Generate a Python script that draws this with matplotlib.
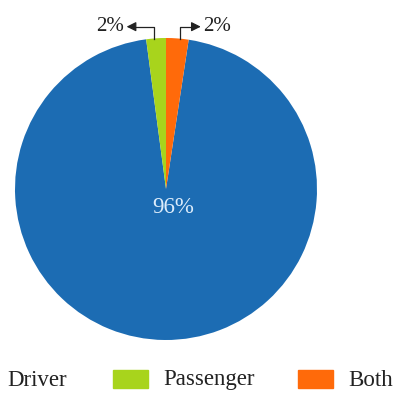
import numpy as np
import matplotlib.pyplot as plt
from matplotlib.patches import Rectangle

labels = ['Driver', 'Passenger', 'Both']
shares = [95.5, 2.1, 2.4]
colors = ['#1c6cb3', '#a8d41c', '#ff6a0a']

plt.rcParams['font.family'] = ['Liberation Serif', 'DejaVu Serif']

W, H = 395, 399
fig = plt.figure(figsize=(W / 100, H / 100), dpi=100)

# pie area in pixels: centre (166, 189), radius 151
cx, cy, r = 166, 189, 151
ax = fig.add_axes([(cx - r) / W, (H - cy - r) / H, 2 * r / W, 2 * r / H])

# clockwise, with Passenger just left of the top and Both just right of it
start = 90 - 360 * shares[2] / sum(shares)
wedges, _ = ax.pie(shares, colors=colors, startangle=start, counterclock=False,
                   radius=1, wedgeprops=dict(linewidth=0))
ax.set_xlim(-1, 1)
ax.set_ylim(-1, 1)
ax.set_aspect('equal')
ax.axis('off')

# centre label for the big slice
ax.text(0.05, -0.125, f'{round(shares[0])}%', color='#dcecfb', fontsize=16.5,
        ha='center', va='center')

# small slices: bracket lines with arrow heads pointing at the labels
ytop = 1.075
for w, val, side, reach in [(wedges[1], shares[1], -1, 0.18),
                            (wedges[2], shares[2], 1, 0.14)]:
    mid = np.deg2rad((w.theta1 + w.theta2) / 2)
    x0 = np.cos(mid) + side * 0.015
    y0 = 0.995
    xh = x0 + side * reach
    ax.plot([x0, x0, xh - side * 0.04], [y0, ytop, ytop], color='#222222',
            lw=0.9, clip_on=False)
    ax.annotate('', xy=(xh, ytop), xytext=(xh - side * 0.05, ytop),
                arrowprops=dict(arrowstyle='-|>', color='#222222', lw=0.9,
                                mutation_scale=14, shrinkA=0, shrinkB=0),
                annotation_clip=False)
    ax.text(xh + side * 0.015, ytop, f'{round(val)}%', fontsize=15,
            color='#222222', ha='left' if side > 0 else 'right',
            va='center', clip_on=False)

# legend along the bottom
patch_x = [-43, 113, 298]
for px, lab, col in zip(patch_x, labels, colors):
    fig.patches.append(Rectangle((px / W, (H - 388) / H), 35 / W, 18 / H,
                                 transform=fig.transFigure, color=col))
    fig.text((px + 50) / W, (H - 380) / H, lab, fontsize=16.5,
             color='#222222', ha='left', va='center')

fig.savefig('out.png', dpi=100)
